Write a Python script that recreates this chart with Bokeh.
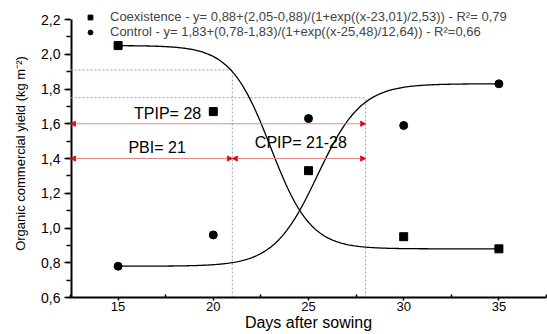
import numpy as np
from bokeh.plotting import figure
from bokeh.models import (FixedTicker, Legend, LegendItem, Arrow, NormalHead, Label, Range1d)
from bokeh.embed import file_html
from bokeh.resources import INLINE

# ---- data ----
days = [15, 20, 25, 30, 35]
coexistence = [2.05, 1.67, 1.33, 0.95, 0.88]
control = [0.78, 0.96, 1.63, 1.59, 1.83]

# fitted sigmoid parameters (as drawn)
coex_fit = dict(low=0.88, high=2.05, x0=23.01, s=1.05)
ctrl_fit = dict(low=1.83, high=0.78, x0=25.48, s=1.15)

PBI = 21
TPIP = 28
ref_levels = [1.91, 1.75]       # y where PBI / TPIP meet the curves
arrow_levels = [1.6, 1.4]       # TPIP arrow, PBI / CPIP arrows

coex_label = "Coexistence - y= 0,88+(2,05-0,88)/(1+exp((x-23,01)/2,53)) - R²= 0,79"
ctrl_label = "Control - y= 1,83+(0,78-1,83)/(1+exp((x-25,48)/12,64)) - R²=0,66"

y_ticks = [0.6, 0.8, 1.0, 1.2, 1.4, 1.6, 1.8, 2.0, 2.2]
y_tick_labels = ["0,6", "0,8", "1,0", "1,2", "1,4", "1,6", "1,8", "2,0", "2,2"]
x_ticks = [15, 20, 25, 30, 35]

def sig(x, f):
    return f["low"] + (f["high"] - f["low"]) / (1 + np.exp((x - f["x0"]) / f["s"]))

xs = np.linspace(days[0], days[-1], 300)

X0, X1 = 12.5, 37.5
Y0, YAX = 0.6, 2.2          # axis extent
Y1 = Y0 + 288 / 173.75      # a little head-room above the axis so the legend is not clipped
p = figure(frame_width=476, frame_height=288, output_backend="svg", toolbar_location=None,
           x_range=Range1d(X0, X1), y_range=Range1d(Y0, Y1),
           min_border_left=70, min_border_right=1, min_border_top=9, min_border_bottom=37)
p.outline_line_color = None
p.xgrid.visible = False
p.ygrid.visible = False

# y axis line (only up to 2,2)
p.line([X0, X0], [Y0, YAX], line_color="black", line_width=4)

# dotted reference lines
dot_col = "#9a9ac8"
p.line([X0, PBI], [ref_levels[0]] * 2, line_color=dot_col, line_dash="2 2", line_width=1)
p.line([X0, TPIP], [ref_levels[1]] * 2, line_color=dot_col, line_dash="2 2", line_width=1)
p.line([PBI, PBI], [Y0, ref_levels[0]], line_color=dot_col, line_dash="2 2", line_width=1)
p.line([TPIP, TPIP], [Y0, ref_levels[1]], line_color=dot_col, line_dash="2 2", line_width=1)

# curves
p.line(xs, sig(xs, coex_fit), line_color="black", line_width=1.3)
p.line(xs, sig(xs, ctrl_fit), line_color="black", line_width=1.3)

sq = p.scatter(days, coexistence, marker="square", size=8, fill_color="black", line_color="black")
ci = p.scatter(days, control, marker="circle", size=8, fill_color="black", line_color="black")

# arrows
def head():
    return NormalHead(size=5, fill_color="#e01010", line_color="#e01010")

for (xa, xb, ya) in [(X0, TPIP, arrow_levels[0]), (X0, PBI, arrow_levels[1]), (PBI, TPIP, arrow_levels[1])]:
    p.add_layout(Arrow(start=head(), end=head(), x_start=xa, x_end=xb, y_start=ya, y_end=ya,
                       line_color="#e08888", line_width=1))

lab_font = "Liberation Sans"
for txt, x, y in [("TPIP= 28", 17.6, 1.66), ("PBI= 21", 17.05, 1.465), ("CPIP= 21-28", 24.6, 1.49)]:
    p.add_layout(Label(x=x, y=y, text=txt, text_align="center", text_baseline="middle",
                       text_font=lab_font, text_font_size="16px", text_color="black"))

# legend
legend = Legend(items=[LegendItem(label=coex_label, renderers=[sq]),
                       LegendItem(label=ctrl_label, renderers=[ci])],
                location=(10, 258), margin=0, padding=0, spacing=0,
                glyph_width=20, glyph_height=12, label_height=12, label_standoff=10,
                label_text_font=lab_font, label_text_font_size="13px",
                background_fill_alpha=0, border_line_alpha=0)
p.add_layout(legend)

# axes
p.xaxis.ticker = FixedTicker(ticks=x_ticks, minor_ticks=[12.5, 17.5, 22.5, 27.5, 32.5, 37.5])
p.yaxis.ticker = FixedTicker(ticks=y_ticks, minor_ticks=[round(0.6 + 0.1 * i, 2) for i in range(17)])
p.yaxis.major_label_overrides = {t: l for t, l in zip(y_ticks, y_tick_labels)}
p.xaxis.axis_label = "Days after sowing"
p.yaxis.axis_label = "Organic commercial yield (kg m⁻²)"
for ax in (p.xaxis, p.yaxis):
    ax.axis_line_width = 2
    ax.axis_line_color = "black"
    ax.major_tick_line_width = 1.5
    ax.minor_tick_line_width = 1.5
    ax.major_label_text_font = lab_font
    ax.major_label_text_font_size = "14px"
    ax.major_label_text_color = "black"
    ax.axis_label_text_font = lab_font
    ax.axis_label_text_font_style = "normal"
    ax.axis_label_text_color = "black"
p.yaxis.axis_line_color = None
p.xaxis.major_label_text_font_size = "13px"
p.xaxis.axis_label_text_font_size = "16px"
p.yaxis.axis_label_text_font_size = "13px"
p.yaxis.major_tick_out = 6
p.yaxis.major_tick_in = 0
p.yaxis.minor_tick_out = 4
p.yaxis.minor_tick_in = 0
p.xaxis.major_tick_out = 3
p.xaxis.major_tick_in = 0
p.xaxis.minor_tick_out = 0
p.xaxis.minor_tick_in = 3
p.xaxis.major_label_standoff = 1
p.xaxis.axis_label_standoff = 0
p.yaxis.major_label_standoff = 4
p.yaxis.axis_label_standoff = 10

open("out.html", "w").write(file_html(p, INLINE))
